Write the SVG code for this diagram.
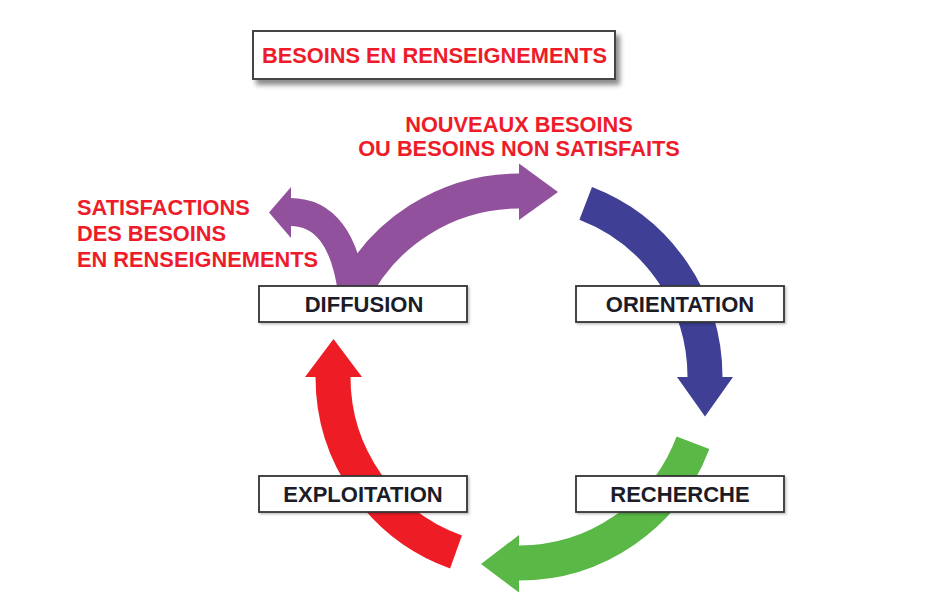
<svg xmlns="http://www.w3.org/2000/svg" width="948" height="608" viewBox="0 0 948 608">
<style>
.lbl{font-family:"Liberation Sans",Arial,sans-serif;font-weight:bold;font-size:21.8px;fill:#EE1C2A}
.node rect{fill:#fff;stroke:#333;stroke-width:1.8}
.node text{font-family:"Liberation Sans",Arial,sans-serif;font-weight:bold;font-size:22px;fill:#1c1c28;text-anchor:middle}
.shaft{fill:none;stroke-width:35;stroke-linecap:butt}
</style>
<defs>
<filter id="sh" x="-10%" y="-30%" width="125%" height="180%">
<feDropShadow dx="4" dy="5" stdDeviation="2.5" flood-color="#000" flood-opacity="0.45"/>
</filter>
<filter id="sh2" x="-5%" y="-20%" width="115%" height="150%">
<feDropShadow dx="1.5" dy="1.5" stdDeviation="1" flood-color="#000" flood-opacity="0.25"/>
</filter>
</defs>
<rect width="948" height="608" fill="#fff"/>

<g id="title">
<rect x="253" y="31" width="362" height="48" fill="#fff" stroke="#444" stroke-width="2" filter="url(#sh)"/>
<text class="lbl" x="434.5" y="63" text-anchor="middle">BESOINS EN RENSEIGNEMENTS</text>
</g>

<g id="connectors">
<g id="arrow-orientation" fill="#3E3F95" stroke="#3E3F95">
<path class="shaft" d="M585.7 203.4 A186 186 0 0 1 705 377"/>
<polygon stroke="none" points="677,377 733,377 705,416.5"/>
</g>
<g id="arrow-recherche" fill="#5AB846" stroke="#5AB846">
<path class="shaft" d="M693 442.7 A186 186 0 0 1 519 563"/>
<polygon stroke="none" points="519,535 519,592.5 481,564"/>
</g>
<g id="arrow-exploitation" fill="#EE1C25" stroke="#EE1C25">
<path class="shaft" d="M456 552 A186 186 0 0 1 333 377"/>
<polygon stroke="none" points="305,377 362,377 333.5,339"/>
</g>
<g id="arrow-diffusion" fill="#91519D" stroke="#91519D">
<path class="shaft" d="M350.4 298.4 A186 186 0 0 1 519 191"/>
<polygon stroke="none" points="519,163.5 519,220 558,192"/>
<path fill="none" stroke-width="28" d="M352 292 C345 240 325 212 290 212"/>
<polygon stroke="none" points="291,187 291,238 269,212.5"/>
</g>
</g>

<g id="label-nouveaux">
<text class="lbl" x="519" y="132" text-anchor="middle">NOUVEAUX BESOINS</text>
<text class="lbl" x="519" y="156" text-anchor="middle">OU BESOINS NON SATISFAITS</text>
</g>
<g id="label-satisfactions">
<text class="lbl" x="77" y="215">SATISFACTIONS</text>
<text class="lbl" x="77" y="241">DES BESOINS</text>
<text class="lbl" x="77" y="267">EN RENSEIGNEMENTS</text>
</g>

<g id="node-diffusion" class="node">
<rect x="259" y="286" width="208" height="36" filter="url(#sh2)"/>
<text x="364" y="312">DIFFUSION</text>
</g>
<g id="node-orientation" class="node">
<rect x="576" y="286" width="208" height="36" filter="url(#sh2)"/>
<text x="680" y="312">ORIENTATION</text>
</g>
<g id="node-recherche" class="node">
<rect x="576" y="476" width="208" height="36" filter="url(#sh2)"/>
<text x="680" y="502">RECHERCHE</text>
</g>
<g id="node-exploitation" class="node">
<rect x="259" y="476" width="208" height="36" filter="url(#sh2)"/>
<text x="363" y="502">EXPLOITATION</text>
</g>
</svg>
